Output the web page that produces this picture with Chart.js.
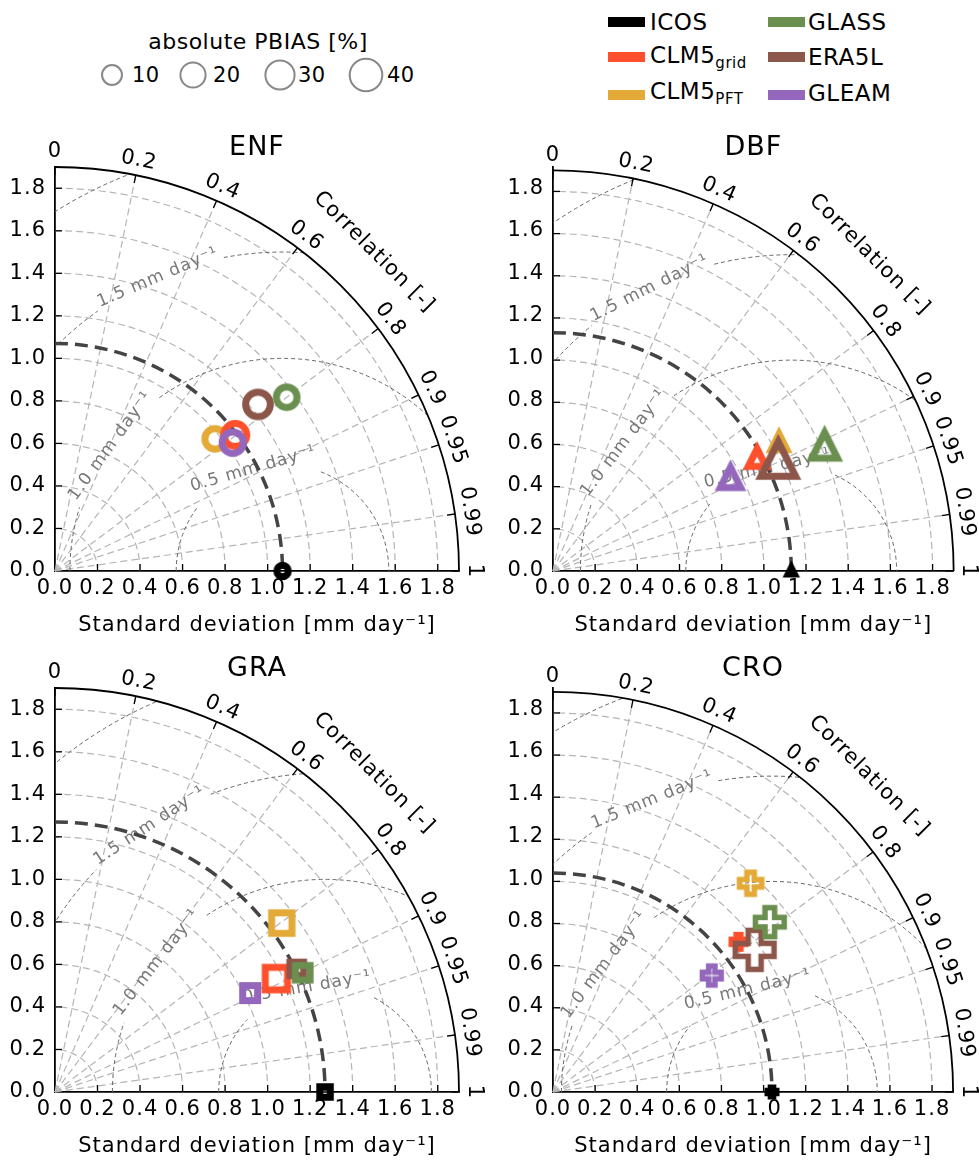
<!DOCTYPE html>
<html>
<head>
<meta charset="utf-8">
<script src="https://cdn.jsdelivr.net/npm/chart.js@4.4.1/dist/chart.umd.min.js"></script>
<style>
  html,body{margin:0;padding:0;background:#fff;}
  #page{position:relative;width:979px;height:1160px;overflow:hidden;font-family:'DejaVu Sans',sans-serif;color:#000;}
  #page canvas{position:absolute;left:0;top:0;}
  .lab{position:absolute;white-space:nowrap;transform:translateY(-50%);line-height:1.15;letter-spacing:0.5px;}
  .sw{position:absolute;width:37px;height:10px;}
</style>
</head>
<body>
<div id="page">
  <div id="legend"></div>
  <canvas id="c0" width="979" height="1160"></canvas>
  <canvas id="c1" width="979" height="1160"></canvas>
  <canvas id="c2" width="979" height="1160"></canvas>
  <canvas id="c3" width="979" height="1160"></canvas>
</div>
<script>
// ---------------- data ----------------
const categories = ['ENF', 'DBF', 'GRA', 'CRO'];
const models = ['ICOS', 'CLM5grid', 'CLM5PFT', 'GLASS', 'ERA5L', 'GLEAM'];
const stdTicks = [0.0, 0.2, 0.4, 0.6, 0.8, 1.0, 1.2, 1.4, 1.6, 1.8];
const stdMax = 1.9;
const corrTicks = [0, 0.2, 0.4, 0.6, 0.8, 0.9, 0.95, 0.99, 1];
const corrTickLabels = ['0', '0.2', '0.4', '0.6', '0.8', '0.9', '0.95', '0.99', '1'];
const rmsdLevels = [0.5, 1.0, 1.5, 2.0];
const rmsdLabels = ['0.5 mm day⁻¹', '1.0 mm day⁻¹', '1.5 mm day⁻¹'];
const pbiasLegend = [10, 20, 30, 40];

// standard deviation of the ICOS reference per PFT
const stdICOS = [1.07, 1.13, 1.27, 1.04];

const stdCLM5grid   = [1.062, 1.105, 1.170, 1.129];
const corrCLM5grid  = [0.798, 0.876, 0.890, 0.780];
const pbiasCLM5grid = [15.4, 6.8, 14.1, 3.2];

const stdCLM5PFT   = [0.976, 1.232, 1.330, 1.358];
const corrCLM5PFT  = [0.771, 0.870, 0.802, 0.691];
const pbiasCLM5PFT = [10.6, 4.4, 10.6, 13.9];

const stdGLASS   = [1.362, 1.417, 1.293, 1.303];
const corrGLASS  = [0.800, 0.909, 0.901, 0.790];
const pbiasGLASS = [11.2, 21.2, 3.4, 28.9];

const stdERA5L   = [1.235, 1.191, 1.276, 1.168];
const corrERA5L  = [0.773, 0.897, 0.891, 0.820];
const pbiasERA5L = [18.9, 46.9, 2.6, 62];

const stdGLEAM   = [1.031, 0.950, 1.029, 0.932];
const corrGLEAM  = [0.811, 0.886, 0.892, 0.809];
const pbiasGLEAM = [12.3, 10.7, 3.7, 8.3];

const series = {
  CLM5grid: {std: stdCLM5grid, corr: corrCLM5grid, pbias: pbiasCLM5grid},
  CLM5PFT:  {std: stdCLM5PFT,  corr: corrCLM5PFT,  pbias: pbiasCLM5PFT},
  GLASS:    {std: stdGLASS,    corr: corrGLASS,    pbias: pbiasGLASS},
  ERA5L:    {std: stdERA5L,    corr: corrERA5L,    pbias: pbiasERA5L},
  GLEAM:    {std: stdGLEAM,    corr: corrGLEAM,    pbias: pbiasGLEAM}
};

// ---------------- style ----------------
const FONT = "'DejaVu Sans', sans-serif";
const colors = {
  ICOS: '#000000', CLM5grid: '#fe502d', CLM5PFT: '#e4aa38',
  GLASS: '#6a8f4f', ERA5L: '#8c564b', GLEAM: '#9467bd'
};
const legendLabels = {
  ICOS: 'ICOS', CLM5grid: 'CLM5<sub>grid</sub>', CLM5PFT: 'CLM5<sub>PFT</sub>',
  GLASS: 'GLASS', ERA5L: 'ERA5L', GLEAM: 'GLEAM'
};
// draw order bottom -> top
const drawOrder = ['ICOS', 'CLM5PFT', 'CLM5grid', 'ERA5L', 'GLASS', 'GLEAM'];
const markerSize = p => 7.3 + 4 * Math.sqrt(p);
const refMarkerSize = {circle: 11.5, triangle: 6, square: 10.5, plus: 9.5};
const markerLW = {circle: 7, triangle: 7, square: 7, plus: 5.5};
const panelLayout = [
  {area: [55, 167, 459, 571],   shape: 'circle',   labelAngles: [106, 144, 113]},
  {area: [553, 167, 957, 571],  shape: 'triangle', labelAngles: [103, 142.6, 116.6]},
  {area: [55, 688, 459, 1092],  shape: 'square',   labelAngles: [99.7, 142.4, 123.4]},
  {area: [553, 688, 957, 1092], shape: 'plus',     labelAngles: [103.4, 142.8, 112.3]}
];
const Y_AXIS_W = 55, X_AXIS_H = 80;

function markerCanvas(shape, color, d, lw) {
  const pad = lw * 2 + 2;
  let size = Math.ceil(d + 2 * pad);
  if (size % 2) size += 1;
  const c = document.createElement('canvas');
  c.width = size; c.height = size;
  const g = c.getContext('2d');
  g.translate(size / 2, size / 2);
  const h = d / 2;
  g.beginPath();
  if (shape === 'circle') {
    g.arc(0, 0, h, 0, 2 * Math.PI);
  } else if (shape === 'triangle') {
    g.moveTo(0, -h); g.lineTo(h, h); g.lineTo(-h, h); g.closePath();
  } else if (shape === 'square') {
    g.rect(-h, -h, d, d);
  } else {
    const a = d / 6;
    const pts = [[-a,-h],[a,-h],[a,-a],[h,-a],[h,a],[a,a],[a,h],[-a,h],[-a,a],[-h,a],[-h,-a],[-a,-a]];
    pts.forEach((p, i) => i ? g.lineTo(p[0], p[1]) : g.moveTo(p[0], p[1]));
    g.closePath();
  }
  g.lineJoin = 'miter';
  g.miterLimit = 10;
  g.lineWidth = lw;
  g.strokeStyle = color;
  g.stroke();
  return c;
}

function makeTaylorPlugin(pi) {
  const lay = panelLayout[pi];
  const ref = stdICOS[pi];
  return {
    id: 'taylor' + pi,
    beforeDraw(chart) { chart.ctx.letterSpacing = '1px'; },
    beforeDatasetsDraw(chart) {
      const ctx = chart.ctx;
      const xs = chart.scales.x, ys = chart.scales.y;
      const ox = xs.getPixelForValue(0), oy = ys.getPixelForValue(0);
      const k = xs.getPixelForValue(1) - ox;
      const R = stdMax * k;
      ctx.save();
      // std grid arcs
      ctx.strokeStyle = '#b5b5b5'; ctx.lineWidth = 1.2; ctx.setLineDash([7, 4]);
      stdTicks.filter(v => v > 0).forEach(v => {
        ctx.beginPath(); ctx.arc(ox, oy, v * k, 0, -Math.PI / 2, true); ctx.stroke();
      });
      // correlation rays
      corrTicks.filter(c => c > 0 && c < 1).forEach(c => {
        const s = Math.sqrt(1 - c * c);
        ctx.beginPath(); ctx.moveTo(ox, oy); ctx.lineTo(ox + R * c, oy - R * s); ctx.stroke();
      });
      // RMSD contours
      ctx.save();
      ctx.beginPath(); ctx.moveTo(ox, oy); ctx.arc(ox, oy, R, 0, -Math.PI / 2, true); ctx.closePath(); ctx.clip();
      const cx = xs.getPixelForValue(ref);
      ctx.font = `17px ${FONT}`;
      rmsdLevels.forEach((L, li) => {
        const r = L * k;
        ctx.strokeStyle = '#666666'; ctx.lineWidth = 1; ctx.setLineDash([4, 3]);
        if (li >= rmsdLabels.length) {
          ctx.beginPath(); ctx.arc(cx, oy, r, Math.PI, 2 * Math.PI); ctx.stroke();
          return;
        }
        const text = rmsdLabels[li];
        const ang = lay.labelAngles[li];
        const phi = ang * Math.PI / 180;
        const w = ctx.measureText(text).width + 8;
        const g = w / 2 / r;
        ctx.beginPath(); ctx.arc(cx, oy, r, Math.PI, 2 * Math.PI - phi - g); ctx.stroke();
        ctx.beginPath(); ctx.arc(cx, oy, r, 2 * Math.PI - phi + g, 2 * Math.PI); ctx.stroke();
        ctx.save();
        ctx.setLineDash([]);
        ctx.translate(cx + r * Math.cos(phi), oy - r * Math.sin(phi));
        ctx.rotate((90 - ang) * Math.PI / 180);
        ctx.fillStyle = '#787878'; ctx.textAlign = 'center'; ctx.textBaseline = 'middle';
        ctx.fillText(text, 0, 0);
        ctx.restore();
      });
      ctx.restore();
      // reference std arc
      ctx.strokeStyle = '#444444'; ctx.lineWidth = 3.5; ctx.setLineDash([13, 7]);
      ctx.beginPath(); ctx.arc(ox, oy, ref * k, -Math.PI / 2, 0); ctx.stroke();
      // outer arc
      ctx.setLineDash([]); ctx.strokeStyle = '#000'; ctx.lineWidth = 1.8;
      ctx.beginPath(); ctx.arc(ox, oy, R, 0, -Math.PI / 2, true); ctx.stroke();
      // inward ticks
      ctx.lineWidth = 1.3;
      stdTicks.filter(v => v > 0).forEach(v => {
        ctx.beginPath(); ctx.moveTo(ox + v * k, oy); ctx.lineTo(ox + v * k, oy - 7); ctx.stroke();
        ctx.beginPath(); ctx.moveTo(ox, oy - v * k); ctx.lineTo(ox + 7, oy - v * k); ctx.stroke();
      });
      corrTicks.forEach(c => {
        const s = Math.sqrt(1 - c * c);
        ctx.beginPath(); ctx.moveTo(ox + R * c, oy - R * s); ctx.lineTo(ox + (R - 8) * c, oy - (R - 8) * s); ctx.stroke();
      });
      // correlation tick labels
      ctx.fillStyle = '#000'; ctx.textAlign = 'center'; ctx.textBaseline = 'middle';
      ctx.font = `21px ${FONT}`;
      corrTicks.forEach((c, i) => {
        const th = Math.acos(c);
        const rr = R + 15;
        ctx.save();
        ctx.translate(ox + rr * Math.cos(th), oy - rr * Math.sin(th));
        ctx.rotate(Math.PI / 2 - th);
        ctx.fillText(corrTickLabels[i], 0, 0);
        ctx.restore();
      });
      ctx.save();
      const rc = R + 47, tc = Math.PI / 4;
      ctx.translate(ox + rc * Math.cos(tc), oy - rc * Math.sin(tc));
      ctx.rotate(Math.PI / 2 - tc);
      ctx.fillText('Correlation [-]', 0, 0);
      ctx.restore();
      // panel title
      ctx.font = `27px ${FONT}`;
      ctx.fillText(categories[pi], (chart.chartArea.left + chart.chartArea.right) / 2, chart.chartArea.top - 19);
      ctx.restore();
    }
  };
}

function buildChart(pi) {
  const lay = panelLayout[pi];
  const [L, T, R, B] = lay.area;
  const lw = markerLW[lay.shape];
  const datasets = drawOrder.map((m, oi) => {
    let pt, d;
    if (m === 'ICOS') {
      pt = {x: stdICOS[pi], y: 0};
      d = refMarkerSize[lay.shape];
    } else {
      const s = series[m].std[pi], c = series[m].corr[pi];
      pt = {x: s * c, y: s * Math.sqrt(1 - c * c)};
      d = markerSize(series[m].pbias[pi]);
    }
    return {
      label: m,
      data: [pt],
      pointStyle: markerCanvas(lay.shape, colors[m], d, lw),
      pointRadius: d / 2 + lw,
      pointHoverRadius: d / 2 + lw,
      clip: false,
      order: drawOrder.length - oi
    };
  });
  const tickFont = {family: FONT, size: 21};
  const common = {
    type: 'linear', min: 0, max: stdMax,
    afterBuildTicks: s => { s.ticks = stdTicks.map(v => ({value: v})); },
    grid: {display: false, drawTicks: false},
    border: {display: true, color: '#000', width: 1.8},
    ticks: {font: tickFont, color: '#000', autoSkip: false, maxRotation: 0, minRotation: 0,
            callback: v => Number(v).toFixed(1)}
  };
  return new Chart(document.getElementById('c' + pi), {
    type: 'scatter',
    data: {datasets},
    options: {
      responsive: false, animation: false, events: [],
      layout: {padding: {left: L - Y_AXIS_W, top: T, right: 979 - R, bottom: 1160 - B - X_AXIS_H}},
      plugins: {legend: {display: false}, tooltip: {enabled: false}, title: {display: false}},
      scales: {
        x: Object.assign({}, common, {
          position: 'bottom',
          afterFit: s => { s.height = X_AXIS_H; },
          ticks: Object.assign({}, common.ticks, {padding: 5}),
          title: {display: true, text: 'Standard deviation [mm day⁻¹]', color: '#000',
                  font: {family: FONT, size: 21}, padding: {top: 0, bottom: 13}}
        }),
        y: Object.assign({}, common, {
          position: 'left',
          afterFit: s => { s.width = Y_AXIS_W; },
          ticks: Object.assign({}, common.ticks, {padding: 9})
        })
      }
    },
    plugins: [makeTaylorPlugin(pi)]
  });
}

// ---------------- legends (HTML) ----------------
function buildLegends() {
  const lg = document.getElementById('legend');
  let html = '';
  html += `<div class="lab" style="left:258px;top:42px;font-size:22px;transform:translate(-50%,-50%);">absolute PBIAS [%]</div>`;
  const cxs = [112, 193, 280, 366], txs = [132, 213, 298, 387];
  let svg = '<svg style="position:absolute;left:0;top:55px;" width="440" height="40">';
  pbiasLegend.forEach((p, i) => {
    svg += `<circle cx="${cxs[i]}" cy="20" r="${markerSize(p) / 2}" fill="none" stroke="#888" stroke-width="2"/>`;
    html += `<div class="lab" style="left:${txs[i]}px;top:75px;font-size:21px;">${p}</div>`;
  });
  svg += '</svg>';
  html += svg;
  const cols = [[608, 650], [768, 808]];
  const rowsY = [22, 57, 93];
  const layoutOrder = [['ICOS', 'CLM5grid', 'CLM5PFT'], ['GLASS', 'ERA5L', 'GLEAM']];
  layoutOrder.forEach((col, ci) => {
    col.forEach((m, ri) => {
      const y = rowsY[ri];
      html += `<div class="sw" style="left:${cols[ci][0]}px;top:${y - 5 + (ri === 2 ? 2 : 0)}px;background:${colors[m]};"></div>`;
      html += `<div class="lab" style="left:${cols[ci][1]}px;top:${y}px;font-size:23px;">${legendLabels[m].replace(/<sub>/, '<sub style="font-size:15px;vertical-align:-5px;">')}</div>`;
    });
  });
  lg.innerHTML = html;
}

buildLegends();
categories.forEach((c, i) => buildChart(i));
</script>
</body>
</html>
